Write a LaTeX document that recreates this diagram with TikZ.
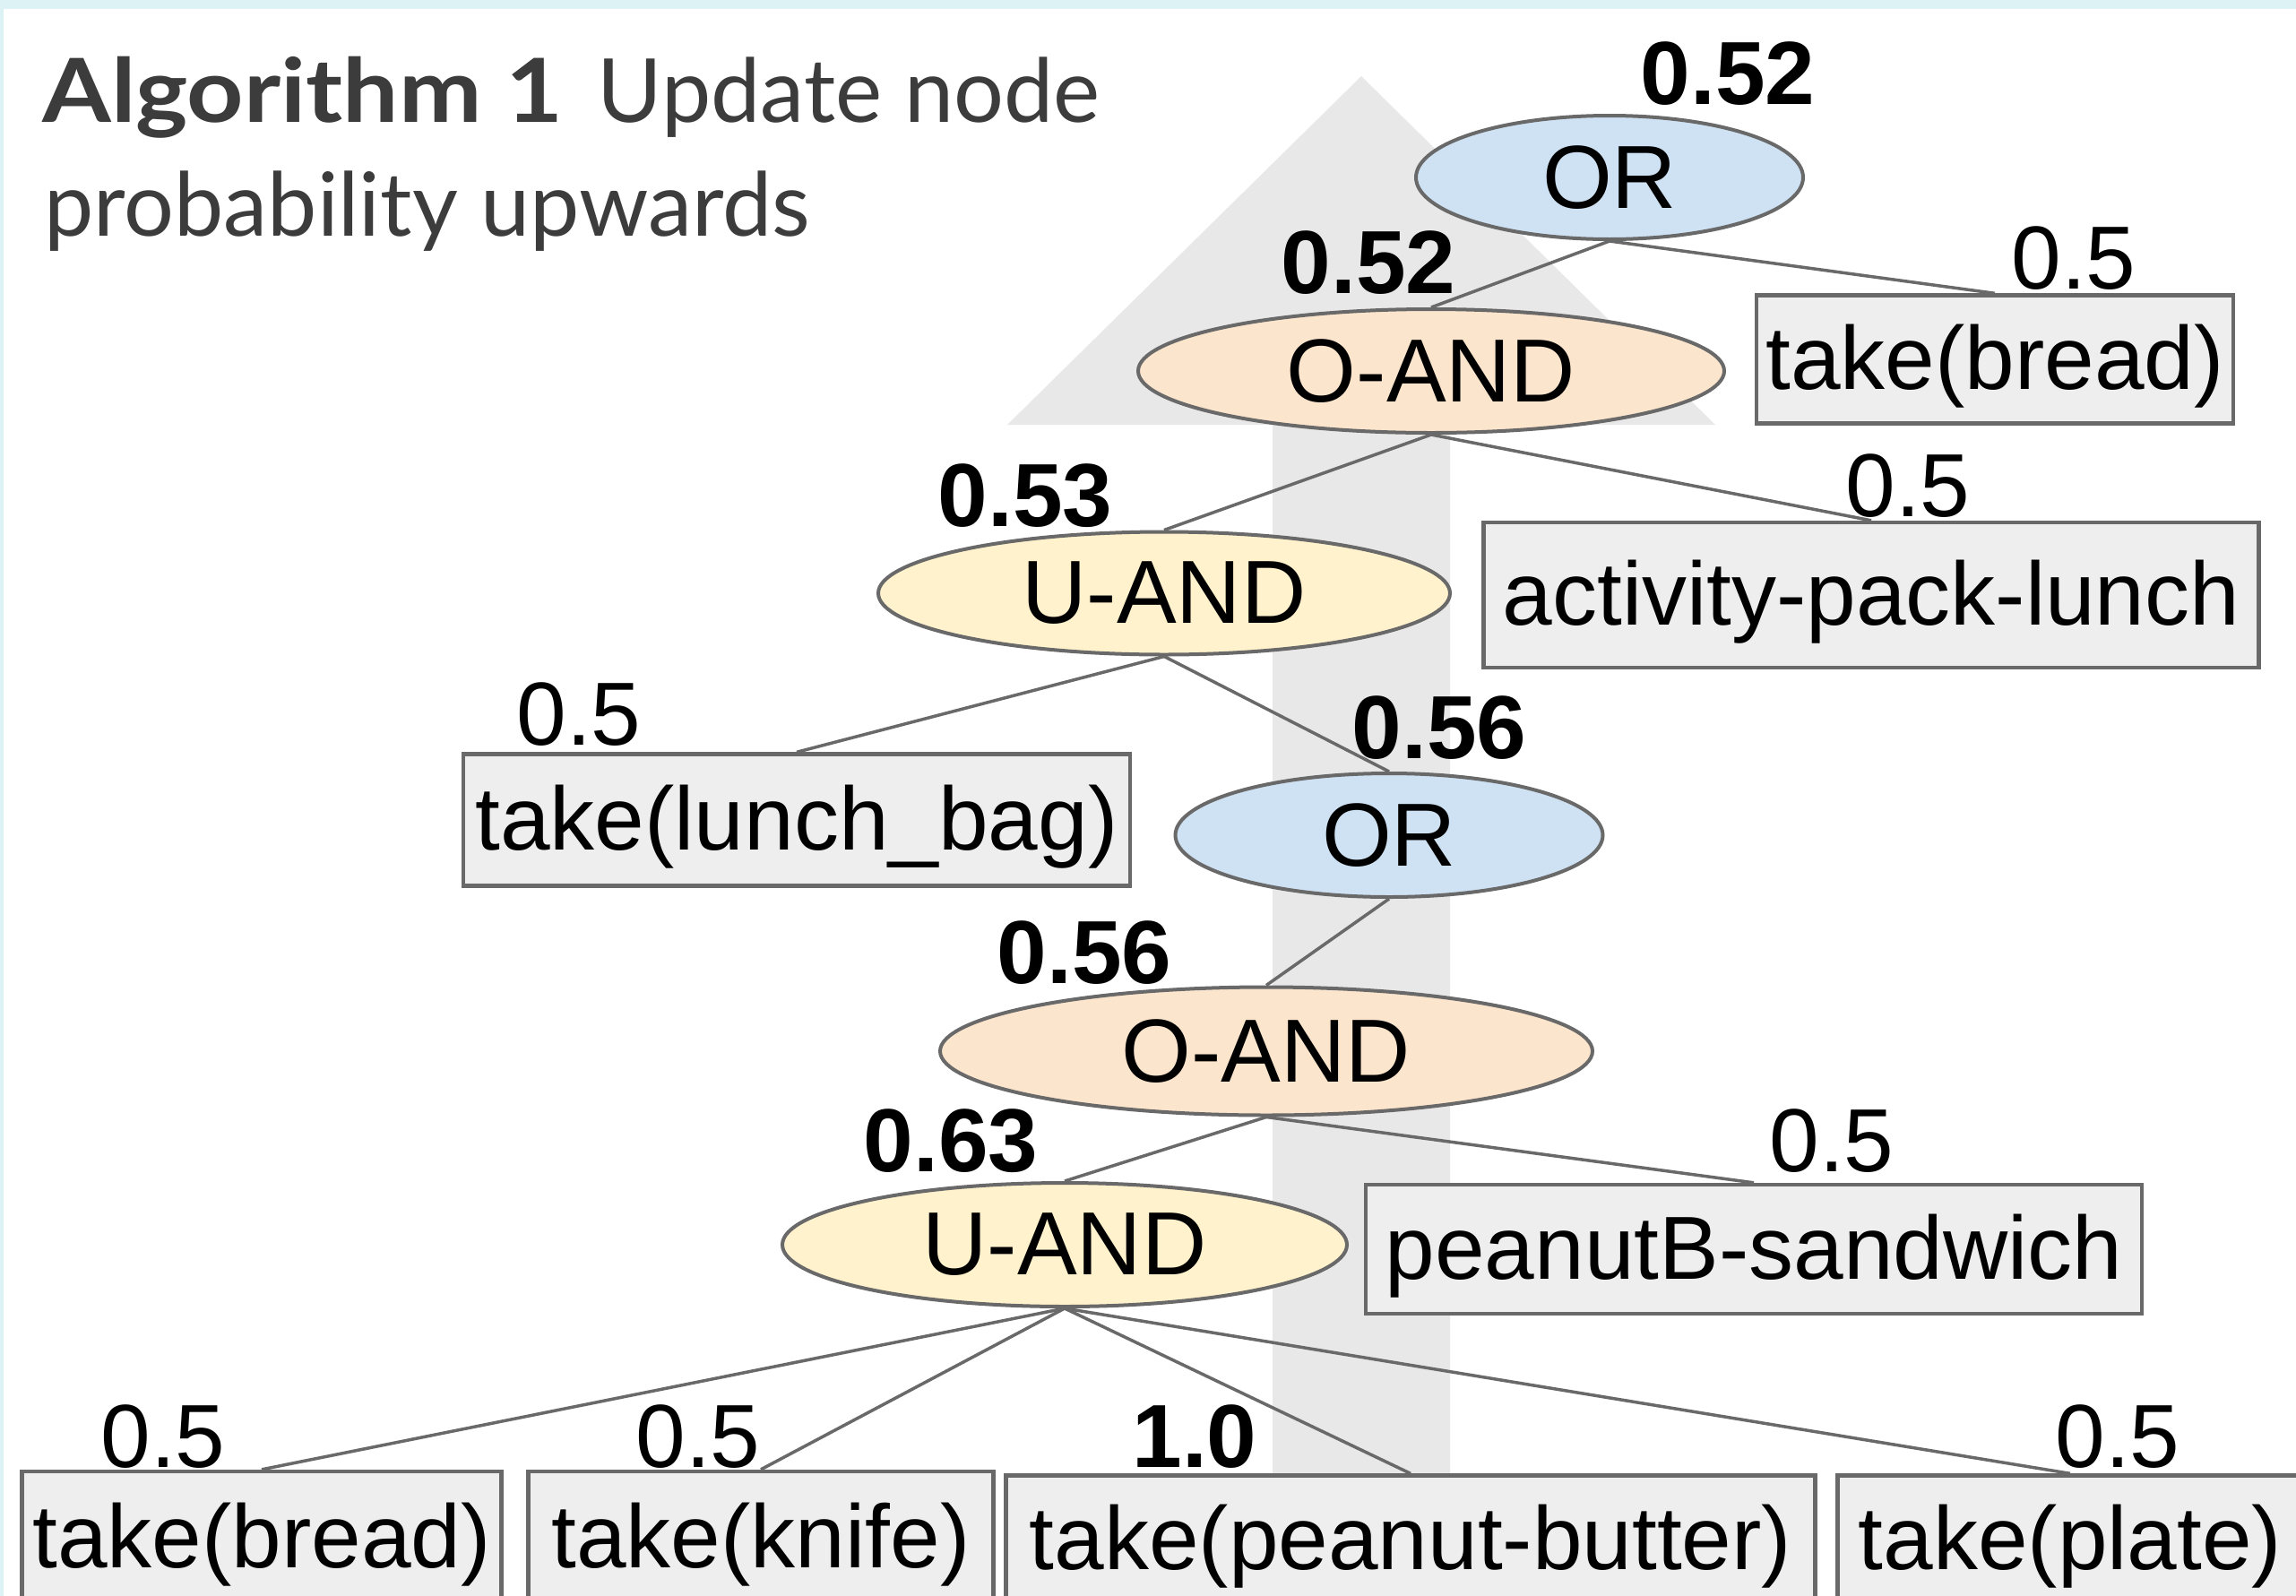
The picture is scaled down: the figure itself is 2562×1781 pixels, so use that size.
\documentclass[tikz,border=0pt]{standalone}
\usepackage{fontspec}
\setmainfont{Liberation Sans}
\newfontfamily\titlefont{Lato}
\usetikzlibrary{shapes.geometric}

\definecolor{orfill}{RGB}{207,226,243}
\definecolor{oandfill}{RGB}{252,229,205}
\definecolor{uandfill}{RGB}{255,242,204}
\definecolor{leaffill}{RGB}{238,238,238}
\definecolor{edgegray}{RGB}{105,105,105}
\definecolor{arrowgray}{RGB}{232,232,232}
\definecolor{framecyan}{RGB}{220,242,244}
\definecolor{titlegray}{RGB}{60,60,60}

\tikzset{every picture/.style={line width=0.75pt},
  gate/.style={ellipse, draw=edgegray, line width=1.2pt, inner sep=0pt, font=\fontsize{30}{36}\selectfont},
  orgate/.style={gate, fill=orfill},
  oandgate/.style={gate, fill=oandfill},
  uandgate/.style={gate, fill=uandfill},
  leaf/.style={rectangle, draw=edgegray, line width=1.3pt, fill=leaffill, inner sep=0pt, text height=25pt, text depth=5.2pt, font=\fontsize{30}{36}\selectfont},
  prob/.style={inner sep=0pt, font=\fontsize{30}{36}\selectfont},
  probbold/.style={inner sep=0pt, font=\fontsize{30}{36}\selectfont\bfseries},
  link/.style={draw=edgegray, line width=1.05pt},
  titletext/.style={anchor=base west, inner sep=0pt, text=titlegray, font=\titlefont\fontsize{29.6}{36}\selectfont}
}

\begin{document}
\begin{tikzpicture}[x=0.3pt,y=0.3pt,yscale=-1,xscale=1]
		\useasboundingbox (0,0) rectangle (2562,1781);
		\clip (0,0) rectangle (2562,1781);
		
		%Shape: frame
		\fill [white] (0,0) rectangle (2562,1781);
		\fill [framecyan] (0,0) rectangle (2562,10);
		\fill [framecyan] (0,0) rectangle (4,1781);
		
		%Shape: upward arrow
		\fill [arrowgray] (1420,1800) -- (1420,474) -- (1124,474) -- (1519,85) -- (1914,474) -- (1618,474) -- (1618,1800) -- cycle ;
		
		%Title
		\node [titletext] (title1) at (46,136) {\scalebox{1.12}[1]{\textbf{Algorithm 1}}\hspace{4pt} Update node};
		\node [titletext] (title2) at (48,263) {probability upwards};
		
		%Gates
		\node [orgate, minimum width=129.6pt, minimum height=41.4pt] (or1) at (1796,198) {OR};
		\node [oandgate, minimum width=196.2pt, minimum height=41.4pt] (oand1) at (1597,414) {O-AND};
		\node [uandgate, minimum width=191.4pt, minimum height=41.1pt] (uand1) at (1299,662) {U-AND};
		\node [orgate, minimum width=143.1pt, minimum height=41.4pt] (or2) at (1550,932) {OR};
		\node [oandgate, minimum width=218.4pt, minimum height=42.9pt] (oand2) at (1413,1173) {O-AND};
		\node [uandgate, minimum width=189pt, minimum height=41.4pt] (uand2) at (1188,1389) {U-AND};
		
		%Leaves
		\node [leaf, minimum width=159.6pt, minimum height=42.9pt] (bread1) at (2226,401) {take(bread)};
		\node [leaf, minimum width=259.5pt, minimum height=48.6pt] (packlunch) at (2088,664) {activity-pack-lunch};
		\node [leaf, minimum width=223.2pt, minimum height=44.1pt] (lunchbag) at (889,915) {take(lunch\_bag)};
		\node [leaf, minimum width=259.8pt, minimum height=43.2pt] (sandwich) at (1957,1394) {peanutB-sandwich};
		\node [leaf, minimum width=160.5pt, minimum height=44.4pt] (bread2) at (292,1716) {take(bread)};
		\node [leaf, minimum width=155.7pt, minimum height=44.4pt] (knife) at (849,1716) {take(knife)};
		\node [leaf, minimum width=270.9pt, minimum height=42.9pt] (pbutter) at (1574,1718) {take(peanut-butter)};
		\node [leaf, minimum width=155.7pt, minimum height=42.9pt] (plate) at (2310,1718) {take(plate)};
		
		%Links
		\draw [link] (or1.south) -- (oand1.north) ;
		\draw [link] (or1.south) -- (bread1.north) ;
		\draw [link] (oand1.south) -- (uand1.north) ;
		\draw [link] (oand1.south) -- (packlunch.north) ;
		\draw [link] (uand1.south) -- (lunchbag.north) ;
		\draw [link] (uand1.south) -- (or2.north) ;
		\draw [link] (or2.south) -- (oand2.north) ;
		\draw [link] (oand2.south) -- (uand2.north) ;
		\draw [link] (oand2.south) -- (sandwich.north) ;
		\draw [link] (uand2.south) -- (bread2.north) ;
		\draw [link] (uand2.south) -- (knife.north) ;
		\draw [link] (uand2.south) -- (pbutter.north) ;
		\draw [link] (uand2.south) -- (plate.north) ;
		
		%Probabilities
		\node [probbold] (p-or1) at (1928,82) {0.52};
		\node [probbold] (p-oand1) at (1527,293) {0.52};
		\node [prob] (p-bread1) at (2314,288) {0.5};
		\node [probbold] (p-uand1) at (1144,553) {0.53};
		\node [prob] (p-packlunch) at (2129,542) {0.5};
		\node [prob] (p-lunchbag) at (646,797) {0.5};
		\node [probbold] (p-or2) at (1606,812) {0.56};
		\node [probbold] (p-oand2) at (1210,1063) {0.56};
		\node [prob] (p-sandwich) at (2044,1273) {0.5};
		\node [probbold] (p-uand2) at (1061,1273) {0.63};
		\node [prob] (p-bread2) at (182,1603) {0.5};
		\node [prob] (p-knife) at (779,1603) {0.5};
		\node [probbold] (p-pbutter) at (1333,1603) {1.0};
		\node [prob] (p-plate) at (2363,1603) {0.5};
		
\end{tikzpicture}
\end{document}
